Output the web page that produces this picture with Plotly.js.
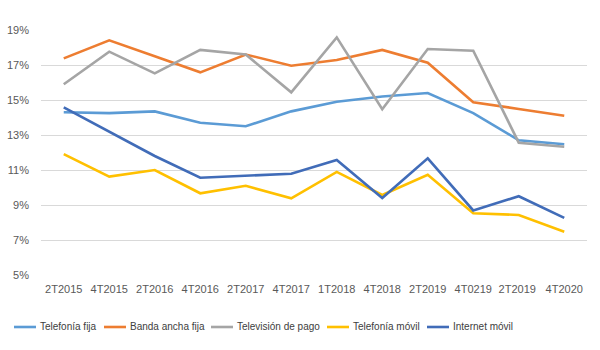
<!DOCTYPE html>
<html>
<head>
<meta charset="utf-8">
<script src="https://cdn.plot.ly/plotly-3.0.1.min.js"></script>
<style>html,body{margin:0;padding:0;background:#fff;}#chart{width:600px;height:350px;}</style>
</head>
<body>
<div id="chart"></div>
<script>
const categories = ["2T2015","4T2015","2T2016","4T2016","2T2017","4T2017","1T2018","4T2018","2T2019","4T0219","2T2019 ","4T2020"];
const telefoniaFija = [14.3, 14.25, 14.35, 13.7, 13.5, 14.35, 14.9, 15.2, 15.4, 14.25, 12.7, 12.47];
const bandaAnchaFija = [17.38, 18.41, 17.5, 16.58, 17.6, 16.96, 17.29, 17.86, 17.13, 14.87, 14.49, 14.1];
const television = [15.9, 17.76, 16.52, 17.86, 17.6, 15.44, 18.58, 14.47, 17.91, 17.82, 12.56, 12.33];
const telefoniaMovil = [11.91, 10.62, 11.0, 9.67, 10.1, 9.38, 10.89, 9.57, 10.73, 8.53, 8.43, 7.47];
const internetMovil = [14.58, 13.2, 11.8, 10.56, 10.67, 10.79, 11.57, 9.4, 11.67, 8.69, 9.5, 8.26];
const yTicks = [5, 7, 9, 11, 13, 15, 17, 19];

const series = [
  {name: "Telefonía fija", y: telefoniaFija, color: "#5B9BD5"},
  {name: "Banda ancha fija", y: bandaAnchaFija, color: "#ED7D31"},
  {name: "Televisión de pago", y: television, color: "#A5A5A5"},
  {name: "Telefonía móvil", y: telefoniaMovil, color: "#FFC000"},
  {name: "Internet móvil", y: internetMovil, color: "#416CB8"}
];

const traces = series.map(s => ({
  type: "scatter", mode: "lines", name: s.name,
  x: categories, y: s.y,
  line: {color: s.color, width: 2.6},
  hoverinfo: "skip", showlegend: false
}));

// Custom single-row legend (pixel positions converted to paper coords)
const M = {l: 41, r: 13, t: 30, b: 75};
const PW = 600 - M.l - M.r, PH = 350 - M.t - M.b;
const px = v => (v - M.l) / PW;
const py = v => (350 - M.b - v) / PH;
const legendStarts = [14, 104, 211, 327, 427];
const legendY = 327;
const shapes = [], annotations = [];
series.forEach((s, i) => {
  const x0 = legendStarts[i];
  shapes.push({type: "line", xref: "paper", yref: "paper",
    x0: px(x0), x1: px(x0 + 22), y0: py(legendY), y1: py(legendY),
    line: {color: s.color, width: 2.6}});
  annotations.push({xref: "paper", yref: "paper", x: px(x0 + 24), y: py(legendY),
    xanchor: "left", yanchor: "middle", showarrow: false, text: s.name,
    font: {size: 10, color: "#404040"}});
});

const layout = {
  width: 600, height: 350,
  margin: M,
  paper_bgcolor: "#fff", plot_bgcolor: "#fff",
  font: {family: "Liberation Sans, Arial, sans-serif", size: 11, color: "#595959"},
  showlegend: false,
  shapes: shapes, annotations: annotations,
  xaxis: {type: "category", showgrid: false, zeroline: false, showline: false,
          ticks: "", tickfont: {size: 11, color: "#595959"}, range: [-0.5, 11.5], tickangle: 0,
          ticklabelstandoff: 6},
  yaxis: {range: [5, 19], tickvals: yTicks, ticktext: yTicks.map(v => v + "%"),
          showgrid: true, gridcolor: "#D9D9D9", gridwidth: 1, zeroline: false, showline: false,
          ticks: "", tickfont: {size: 11, color: "#595959"}, ticklabelstandoff: 11}
};

Plotly.newPlot("chart", traces, layout, {displayModeBar: false, staticPlot: true});
</script>
</body>
</html>
